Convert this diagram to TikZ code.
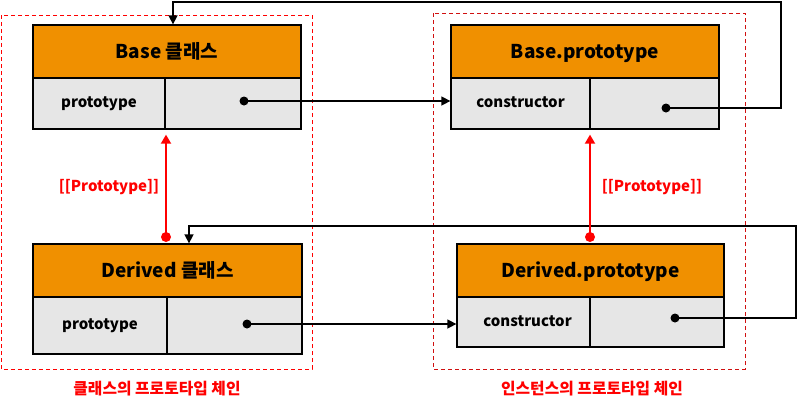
\documentclass[tikz,border=0pt]{standalone}
\usepackage{fontspec}
\setmainfont{Noto Sans CJK KR}
\usetikzlibrary{arrows.meta}
\definecolor{hdr}{HTML}{F09000}
\definecolor{cellg}{HTML}{E6E6E6}
\definecolor{redA}{HTML}{FF0000}
\definecolor{redB}{HTML}{D01010}
\tikzset{
  hbox/.style={draw=black, line width=1.3pt, fill=hdr, inner sep=0pt, text height=14pt, text depth=0pt, font=\bfseries\fontsize{19}{22}\selectfont},
  cbox/.style={draw=black, line width=1.3pt, fill=cellg, inner sep=0pt, text height=8.5pt, text depth=0pt, font=\bfseries\fontsize{15}{18}\selectfont},
  arr/.style={line width=1.5pt, -{Triangle[length=9pt,width=9pt]}},
  rarr/.style={draw=redA, line width=1.8pt, -{Triangle[length=9pt,width=10pt]}},
  dotb/.style={circle, fill=black, inner sep=0pt, minimum size=9pt},
  dotr/.style={circle, fill=redA, inner sep=0pt, minimum size=10pt},
  grp/.style={line width=1pt, dash pattern=on 4pt off 3pt},
  rlab/.style={text=redA, font=\bfseries\fontsize{15}{18}\selectfont},
  glab/.style={text=redA, font=\bfseries\fontsize{15.8}{18}\selectfont},
}
\begin{document}
\begin{tikzpicture}[x=1pt,y=-1pt]
\useasboundingbox (0,0) rectangle (798,400);
% group boxes
\draw[grp, draw=redA] (1,15) rectangle (312,369);
\draw[grp, draw=redB] (433,13) rectangle (745,369);
% Base class
\node[hbox, minimum width=268pt, minimum height=53pt] (bH) at (167,51.5) {Base 클래스};
\node[cbox, minimum width=132pt, minimum height=51pt] (bL) at (99,103.5) {prototype};
\node[cbox, minimum width=136pt, minimum height=51pt] (bR) at (233,103.5) {};
% Base.prototype
\node[hbox, minimum width=268pt, minimum height=53pt] (pH) at (585,51.5) {Base.prototype};
\node[cbox, minimum width=139pt, minimum height=51pt] (pL) at (520.5,103.5) {constructor};
\node[cbox, minimum width=129pt, minimum height=51pt] (pR) at (654.5,103.5) {};
% Derived class
\node[hbox, minimum width=269pt, minimum height=53pt] (dH) at (167.5,270.5) {Derived 클래스};
\node[cbox, minimum width=134pt, minimum height=57pt] (dL) at (100,325.5) {prototype};
\node[cbox, minimum width=135pt, minimum height=57pt] (dR) at (234.5,325.5) {};
% Derived.prototype
\node[hbox, minimum width=267pt, minimum height=53pt] (qH) at (590.5,270.5) {Derived.prototype};
\node[cbox, minimum width=133pt, minimum height=50pt] (qL) at (523.5,322) {\hspace{8pt}constructor};
\node[cbox, minimum width=134pt, minimum height=50pt] (qR) at (657,322) {};
% dots
\node[dotb] (d1) at (244,101) {};
\node[dotb] (d2) at (666,108) {};
\node[dotb] (d3) at (247,324) {};
\node[dotb] (d4) at (675,318) {};
\node[dotr] (r1) at (166,237) {};
\node[dotr] (r2) at (590,237) {};
\coordinate (c2) at (781,2);
\coordinate (c4) at (796,226);
% black connectors
\draw[arr] (d1.center) -- (d1 -| pL.west);
\draw[arr] (d3.center) -- (d3 -| qL.west);
\draw[arr] (d2.center) -| (c2) -| ([xshift=6pt]bH.north);
\draw[arr] (d4.center) -| (c4) -| ([xshift=21.5pt]dH.north);
% red connectors
\draw[rarr, shorten >=5pt] (r1.center) -- (r1 |- bR.south);
\draw[rarr, shorten >=5pt] (r2.center) -- (r2 |- pR.south);
% labels
\node[rlab] (l1) at (109,187) {[[Prototype]]};
\node[rlab] (l2) at (652,187) {[[Prototype]]};
\node[glab] (g1) at (157,389) {클래스의 프로토타입 체인};
\node[glab] (g2) at (592,389) {인스턴스의 프로토타입 체인};
\end{tikzpicture}
\end{document}
